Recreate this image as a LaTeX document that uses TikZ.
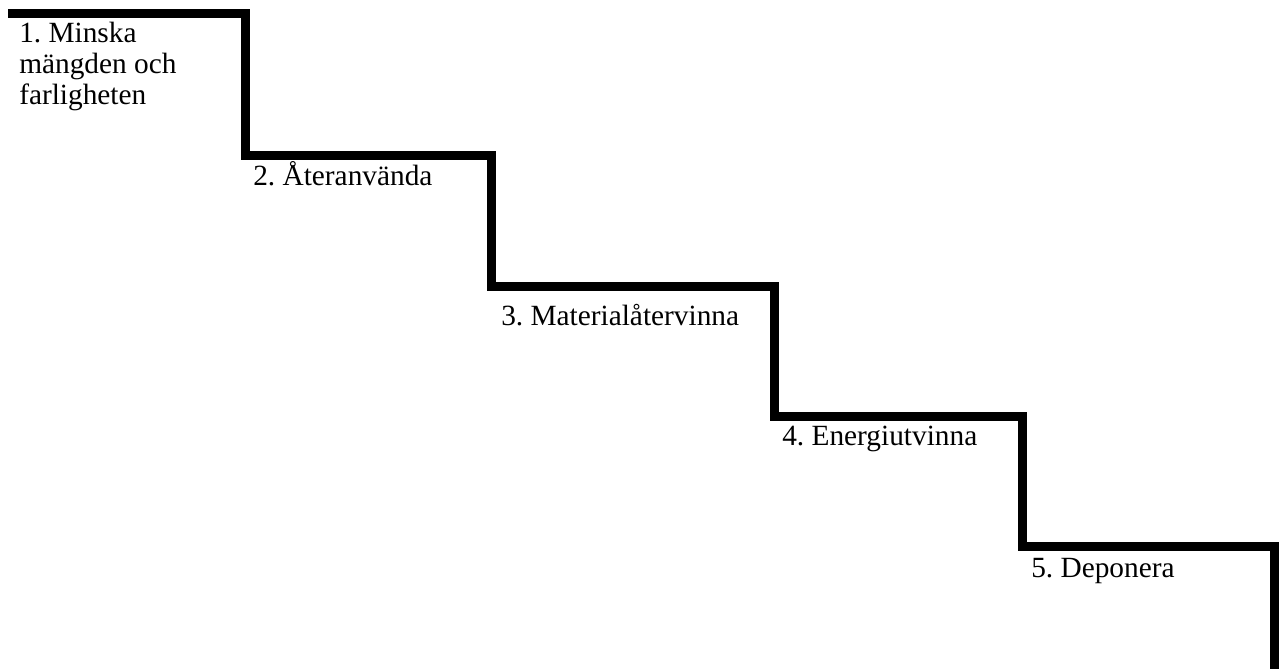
\documentclass[tikz,border=0pt]{standalone}
\usepackage{fontspec}
\setmainfont{Liberation Serif}
\frenchspacing
\usepackage{tikz}
\tikzstyle{stair} = [draw, line width=6.75pt, line cap=butt, line join=miter]
\tikzstyle{steplabel} = [anchor=base west, inner sep=0pt, align=left,
    font=\fontsize{22}{23.25}\selectfont]

\begin{document}
\begin{tikzpicture}[x=0.75pt, y=-0.75pt]
			\useasboundingbox (0,0) rectangle (1280,668);
			% Corners of the stairs
			\coordinate (top) at (8,13);
			\coordinate (s1) at (245.5,155.5);
			\coordinate (s2) at (491,286);
			\coordinate (s3) at (774,416.5);
			\coordinate (s4) at (1022.5,546.5);
			\coordinate (bottom) at (1274.5,672);
			% Place nodes (base of the last line)
			\node [steplabel] (minska) at (19,104) {1. Minska\\mängden och\\farligheten};
			\node [steplabel] (ateranvanda) at (253,185) {2. Återanvända};
			\node [steplabel] (material) at (501,325) {3. Materialåtervinna};
			\node [steplabel] (energi) at (782,445) {4. Energiutvinna};
			\node [steplabel] (deponera) at (1031,577) {5. Deponera};
			%
			\path [stair] (top) -| (s1) -| (s2) -| (s3) -| (s4) -| (bottom);
	\end{tikzpicture}
\end{document}
